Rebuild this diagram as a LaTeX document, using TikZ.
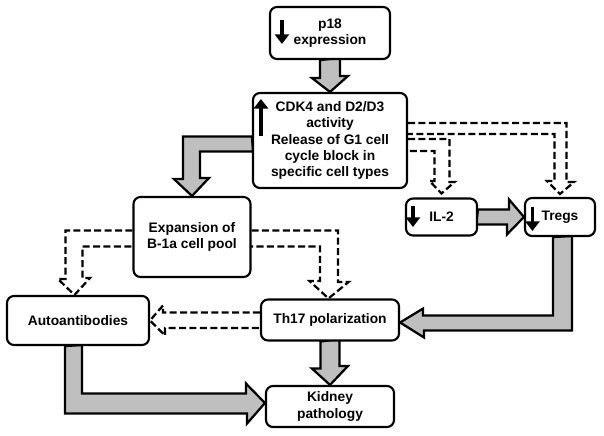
\documentclass[tikz,border=0pt]{standalone}
\usepackage{fontspec}
\setmainfont{Liberation Sans}
\usepackage{xcolor}
\usepackage{tikz}
\usetikzlibrary{calc, backgrounds, arrows.meta}

\tikzset{
  box/.style 2 args={draw, fill=white, line width=1.5pt, rounded corners=5pt,
    align=center, inner sep=0pt, minimum width=#1*0.025cm, minimum height=#2*0.025cm,
    font=\bfseries\fontsize{9.8}{11.7}\selectfont},
  blk/.style={draw, fill=gray!50, line width=1.6pt},
  dsh/.style={line width=1.6pt, dash pattern=on 5pt off 2.4pt},
  updown/.style={line width=2.3pt, -{Triangle[length=6.8pt, width=10pt]}}
}

\begin{document}
\begin{tikzpicture}[x=0.025cm, y=-0.025cm]
      \useasboundingbox (0,0) rectangle (604,435);

      \coordinate (P) at (330, 33);
      \coordinate (C) at (330, 140.5);
      \coordinate (E) at (192, 237);
      \coordinate (I) at (441.5, 217);
      \coordinate (T) at (560, 217);
      \coordinate (A) at (78, 320.5);
      \coordinate (H) at (330, 320);
      \coordinate (K) at (330, 406.5);

      \node [box={120}{52}] (p18) at (P) {p18\\expression};
      \node [box={154}{95}] (cdk) at (C) {CDK4 and D2/D3\\activity\\Release of G1 cell\\cycle block in\\specific cell types};
      \node [box={117}{80}] (expn) at (E) {Expansion of\\B-1a cell pool};
      \node [box={71}{37}] (il2) at (I) {IL-2};
      \node [box={70}{38}] (tregs) at (T) {Tregs};
      \node [box={142}{49}] (auto) at (A) {Autoantibodies};
      \node [box={138}{41}] (th17) at (H) {Th17 polarization};
      \node [box={128}{41}] (kidney) at (K) {Kidney\\pathology};

      \begin{scope}[on background layer]
        % grey block arrows
        \draw [blk] ($(p18.south)+(-10,0)$) -- ++(0,18) -- ++(-8,0) -- (cdk.north)
          -- ++(18,-16) -- ++(-8,0) -- ++(0,-18) -- cycle;
        \draw [blk] ($(cdk.west)+(0,-4)$) -- ++(-69,0) -- ++(0,42.5) -- ++(-9,0) -- (expn.north)
          -- ++(17,-18) -- ++(-9,0) -- ++(0,-26.5) -- ++(53,0) -- cycle;
        \draw [blk] ($(il2.east)+(0,-7.5)$) -- ++(31,0) -- ++(0,-10) -- (tregs.west)
          -- ++(-17,17.5) -- ++(0,-10) -- ++(-31,0) -- cycle;
        \draw [blk] ($(tregs.south)+(-7,0)$) -- ++(0,78.5) -- ++(-130,0) -- ++(0,-7)
          -- ($(th17.east)+(0,2.5)$) -- ++(24,15) -- ++(0,-7) -- ++(148,0) -- ++(0,-94.5) -- cycle;
        \draw [blk] ($(th17.south)+(-9.5,0)$) -- ++(0,27) -- ++(-8.5,0) -- (kidney.north)
          -- ++(18,-19) -- ++(-8.5,0) -- ++(0,-27) -- cycle;
        \draw [blk] ($(auto.south)+(-13,0)$) -- ++(0,67.5) -- ++(182,0) -- ++(0,10)
          -- ($(kidney.west)+(0,-3.5)$) -- ++(-19,-19.5) -- ++(0,10) -- ++(-164,0) -- ++(0,-48.5) -- cycle;

        % dashed open arrows
        \draw [dsh] ($(cdk.east)+(0,-17.5)$) -- ++(158.5,0) -- ++(0,59) -- ++(7.5,0)
          -- ($(tregs.north)+(0,-3)$) -- ++(-13,-13) -- ++(7.5,0) -- ++(0,-47) -- ++(-147.5,0);
        \draw [dsh] ($(cdk.east)+(0,-1.5)$) -- ++(41.5,0) -- ++(0,43) -- ++(5,0)
          -- ($(il2.north)+(0,-4)$) -- ++(-12,-12.5) -- ++(5,0) -- ++(0,-30) -- ++(-27.5,0);
        \draw [dsh] ($(expn.west)+(0,-6.5)$) -- ++(-67,0) -- ++(0,48.5) -- ++(-7.5,0)
          -- ($(auto.north)+(-3.5,0)$) -- ++(15.5,-17) -- ++(-7.5,0) -- ++(0,-31.5) -- ++(51,0);
        \draw [dsh] ($(expn.east)+(0,-6.5)$) -- ++(86.5,0) -- ++(0,51.5) -- ++(10.5,0)
          -- ($(th17.north)+(-1.5,0)$) -- ++(-19,-17.5) -- ++(10.5,0) -- ++(0,-34.5) -- ++(-69.5,0);
        \draw [dsh] ($(th17.west)+(0,-7.5)$) -- ++(-97,0) -- ++(0,-7) -- (auto.east)
          -- ++(15,15) -- ++(0,-7.5) -- ++(97,0);
      \end{scope}

      % up and down marks
      \draw [updown] ($(p18.north west)+(13,14)$) -- ++(0,24);
      \draw [updown] ($(cdk.north west)+(9,44)$) -- ++(0,-37);
      \draw [updown] ($(il2.north west)+(8,8.5)$) -- ++(0,21);
      \draw [updown] ($(tregs.north west)+(8.5,10)$) -- ++(0,24);
    \end{tikzpicture}
\end{document}
